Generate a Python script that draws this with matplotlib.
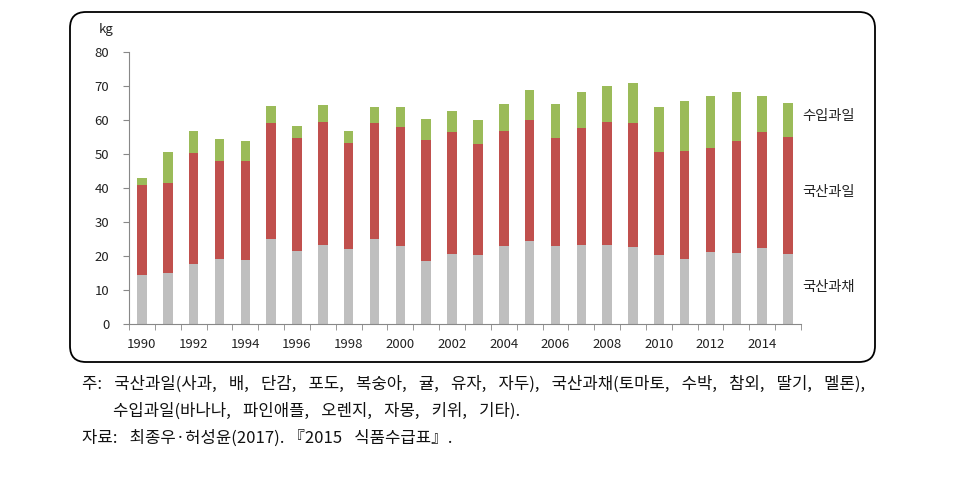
import matplotlib
matplotlib.use("Agg")
import matplotlib.pyplot as plt
import numpy as np
from matplotlib.patches import FancyBboxPatch
from matplotlib.transforms import IdentityTransform

plt.rcParams['font.family'] = ['Noto Sans CJK KR', 'DejaVu Sans']

years = list(range(1990, 2016))
domestic_veg = [14.3, 15.1, 17.7, 19.2, 18.7, 24.9, 21.5, 23.3, 22.1, 24.9, 23.0, 18.4, 20.5,
                20.4, 23.0, 24.3, 23.0, 23.3, 23.3, 22.7, 20.2, 19.2, 21.2, 20.9, 22.4, 20.6]
domestic_total = [40.9, 41.6, 50.3, 47.9, 47.9, 59.1, 54.7, 59.3, 53.2, 59.1, 58.0, 54.2, 56.4,
                  52.8, 56.8, 60.0, 54.7, 57.7, 59.3, 59.1, 50.6, 50.9, 51.9, 53.9, 56.5, 55.1]
grand_total = [43.0, 50.6, 56.8, 54.4, 53.8, 64.2, 58.2, 64.5, 56.8, 63.8, 63.8, 60.3, 62.6,
               60.1, 64.7, 68.8, 64.7, 68.2, 70.0, 70.8, 63.8, 65.7, 67.0, 68.2, 67.0, 65.0]
domestic_fruit = [t - v for t, v in zip(domestic_total, domestic_veg)]
imported_fruit = [g - t for g, t in zip(grand_total, domestic_total)]
series_names = ['국산과채', '국산과일', '수입과일']
colors = ['#BFBFBF', '#C0504D', '#9BBB59']
yticks = list(range(0, 81, 10))
SP = '\u2002 '
notes = ['주:' + SP + '국산과일(사과,' + SP + '배,' + SP + '단감,' + SP + '포도,' + SP + '복숭아,' + SP
         + '귤,' + SP + '유자,' + SP + '자두),' + SP + '국산과채(토마토,' + SP + '수박,' + SP + '참외,'
         + SP + '딸기,' + SP + '멜론),',
         '수입과일(바나나,' + SP + '파인애플,' + SP + '오렌지,' + SP + '자몽,' + SP + '키위,' + SP + '기타).',
         '자료:' + SP + '최종우·허성윤(2017).' + ' 『2015' + SP + '식품수급표』.']

W, H = 966, 478
fig = plt.figure(figsize=(W / 100, H / 100), dpi=100)

# rounded frame
box = FancyBboxPatch((70, H - 362), 805, 350, boxstyle="round,pad=0,rounding_size=16",
                     transform=IdentityTransform(), fill=False, edgecolor='black', linewidth=1.3)
fig.patches.append(box)

ax = fig.add_axes([129 / W, 1 - 324 / H, (801 - 129) / W, (324 - 52) / H])
x = np.arange(len(years))
bw = 0.37
ax.bar(x, domestic_veg, bw, color=colors[0], label=series_names[0])
ax.bar(x, domestic_fruit, bw, bottom=domestic_veg, color=colors[1], label=series_names[1])
ax.bar(x, imported_fruit, bw, bottom=domestic_total, color=colors[2], label=series_names[2])

ax.set_xlim(-0.5, len(years) - 0.5)
ax.set_ylim(0, 80)
ax.set_yticks(yticks)
ax.set_yticklabels([str(v) for v in yticks], fontsize=9.5, color='#222222')
lab_idx = [i for i, y in enumerate(years) if y % 2 == 0]
ax.set_xticks(x[lab_idx])
ax.set_xticklabels([str(years[i]) for i in lab_idx], fontsize=9.5, color='#222222')
ax.tick_params(axis='x', length=0, pad=10)
ax.set_xticks(np.arange(-0.5, len(years)), minor=True)
ax.tick_params(axis='x', which='minor', length=4, color='#888888', direction='out')
ax.tick_params(axis='y', length=4.3, color='#888888', direction='out', pad=10)
for s in ['top', 'right']:
    ax.spines[s].set_visible(False)
ax.spines['left'].set_color('#888888')
ax.spines['bottom'].set_color('#888888')

fig.text(106 / W, 1 - 29 / H, 'kg', fontsize=9.5, ha='center', va='center', color='#222222')

# series labels on right
label_y = [287, 192, 116]
for name, yy in zip(series_names, label_y):
    fig.text(802 / W, 1 - yy / H, name, fontsize=10.3, ha='left', va='center', color='#222222')

# notes
fig.text(82 / W, 1 - 384 / H, notes[0], fontsize=12, ha='left', va='center', color='#111111')
fig.text(113 / W, 1 - 411 / H, notes[1], fontsize=12, ha='left', va='center', color='#111111')
fig.text(82 / W, 1 - 438 / H, notes[2], fontsize=12, ha='left', va='center', color='#111111')

fig.savefig('out.png', dpi=100)
